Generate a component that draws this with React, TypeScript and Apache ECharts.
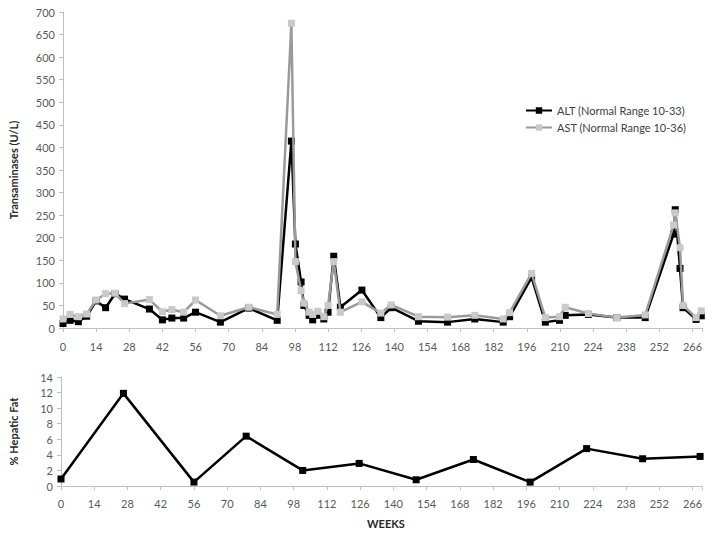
import React, { useEffect, useRef } from "react";
import * as echarts from "echarts";

const weeks = [0, 3, 6.5, 10, 14, 18, 22, 26, 36.5, 42, 46, 51, 56, 66.5, 78.5, 90.5, 96.5, 98.2, 100.6, 101.8, 104, 105.5, 107.7, 110.2, 112, 114.4, 117.2, 126.3, 134.3, 138.7, 150.2, 162.5, 174, 186, 188.7, 198, 203.8, 209.8, 212.2, 222, 234, 246, 258, 258.7, 260.7, 262, 267.5, 269.7];
const altValues = [10, 17, 14, 26, 60, 45, 76, 64, 42, 18, 22, 22, 35, 13, 44, 17, 414, 186, 102, 50, 28, 18, 28, 20, 35, 159, 46, 84, 23, 45, 15, 13, 20, 13, 25, 112, 13, 17, 28, 30, 23, 23, 208, 262, 132, 45, 19, 27];
const astValues = [20, 30, 25, 31, 62, 76, 77, 54, 63, 36, 41, 35, 62, 27, 46, 30, 675, 147, 83, 55, 35, 30, 37, 25, 50, 147, 35, 58, 33, 51, 25, 24, 28, 20, 34, 121, 23, 25, 46, 32, 23, 29, 228, 255, 178, 50, 23, 38];

const fatWeeks = [0, 26.3, 56, 78, 101.8, 125.6, 149.6, 173.7, 197.6, 221.4, 245, 269.2];
const fatValues = [0.9, 11.9, 0.5, 6.4, 2.0, 2.9, 0.8, 3.4, 0.5, 4.8, 3.5, 3.8];

const legendNames = ["ALT (Normal Range 10-33)", "AST (Normal Range 10-36)"];
const xTitle = "WEEKS";
const topYTitle = "Transaminases (U/L)";
const bottomYTitle = "% Hepatic Fat";

const FONT = "Lato, 'Open Sans', sans-serif";

export default function App() {
  const ref = useRef<HTMLDivElement>(null);
  useEffect(() => {
    document.body.style.margin = "0";
    if (!ref.current) return;
    const chart = echarts.init(ref.current, null, { renderer: "svg" });
    const axisLineStyle = { color: "#bfbfbf", width: 1 };
    const labelStyle = { color: "#595959", fontSize: 11, fontFamily: FONT };
    const xFormatter = (v: number) => (v % 14 === 0 ? String(v) : "");
    const option: any = {
      animation: false,
      backgroundColor: "#ffffff",
      textStyle: { fontFamily: FONT },
      grid: [
        { left: 60, right: 12, top: 12, height: 316 },
        { left: 60, right: 12, top: 377, height: 109 },
      ],
      legend: {
        data: legendNames,
        orient: "vertical",
        left: 520,
        top: 100,
        itemWidth: 26,
        itemHeight: 8,
        itemGap: 6,
        textStyle: { color: "#404040", fontSize: 11, fontFamily: FONT },
      },
      xAxis: [
        {
          type: "value",
          gridIndex: 0,
          min: 0,
          max: 270,
          interval: 14,
          axisLine: { lineStyle: axisLineStyle },
          axisTick: { show: true, length: 4, lineStyle: axisLineStyle },
          axisLabel: { ...labelStyle, margin: 13, formatter: xFormatter },
          splitLine: { show: false },
        },
        {
          type: "value",
          gridIndex: 1,
          min: 0,
          max: 270,
          interval: 14,
          axisLine: { lineStyle: axisLineStyle },
          axisTick: { show: true, length: 4, lineStyle: axisLineStyle },
          axisLabel: { ...labelStyle, margin: 12, formatter: xFormatter },
          splitLine: { show: false },
        },
      ],
      yAxis: [
        {
          type: "value",
          gridIndex: 0,
          min: 0,
          max: 700,
          interval: 50,
          name: topYTitle,
          nameLocation: "middle",
          nameGap: 44,
          nameTextStyle: { color: "#262626", fontSize: 11, fontWeight: "bold", fontFamily: FONT },
          axisLine: { show: true, lineStyle: axisLineStyle },
          axisTick: { show: true, length: 4, lineStyle: axisLineStyle },
          axisLabel: { ...labelStyle, margin: 8 },
          splitLine: { show: false },
        },
        {
          type: "value",
          gridIndex: 1,
          min: 0,
          max: 14,
          interval: 2,
          name: bottomYTitle,
          nameLocation: "middle",
          nameGap: 42,
          nameTextStyle: { color: "#262626", fontSize: 11, fontWeight: "bold", fontFamily: FONT },
          axisLine: { show: true, lineStyle: axisLineStyle },
          axisTick: { show: true, length: 4, lineStyle: axisLineStyle },
          axisLabel: { ...labelStyle, margin: 8 },
          splitLine: { show: false },
        },
      ],
      graphic: [
        {
          type: "text",
          left: 367,
          top: 518,
          style: { text: xTitle, fill: "#262626", fontSize: 11, fontWeight: "bold", fontFamily: FONT },
        },
      ],
      series: [
        {
          name: legendNames[0],
          type: "line",
          xAxisIndex: 0,
          yAxisIndex: 0,
          z: 2,
          data: weeks.map((w, i) => [w, altValues[i]]),
          symbol: "rect",
          symbolSize: 7,
          lineStyle: { color: "#000000", width: 2.5 },
          itemStyle: { color: "#000000" },
        },
        {
          name: legendNames[1],
          type: "line",
          xAxisIndex: 0,
          yAxisIndex: 0,
          z: 3,
          data: weeks.map((w, i) => [w, astValues[i]]),
          symbol: "rect",
          symbolSize: 7,
          lineStyle: { color: "#9a9a9a", width: 2.5 },
          itemStyle: { color: "#c9c9c9" },
        },
        {
          name: "Hepatic Fat",
          type: "line",
          xAxisIndex: 1,
          yAxisIndex: 1,
          data: fatWeeks.map((w, i) => [w, fatValues[i]]),
          symbol: "rect",
          symbolSize: 7,
          lineStyle: { color: "#000000", width: 2.5 },
          itemStyle: { color: "#000000" },
        },
      ],
    };
    chart.setOption(option);
    return () => chart.dispose();
  }, []);
  return <div ref={ref} style={{ width: 714, height: 538 }} />;
}
